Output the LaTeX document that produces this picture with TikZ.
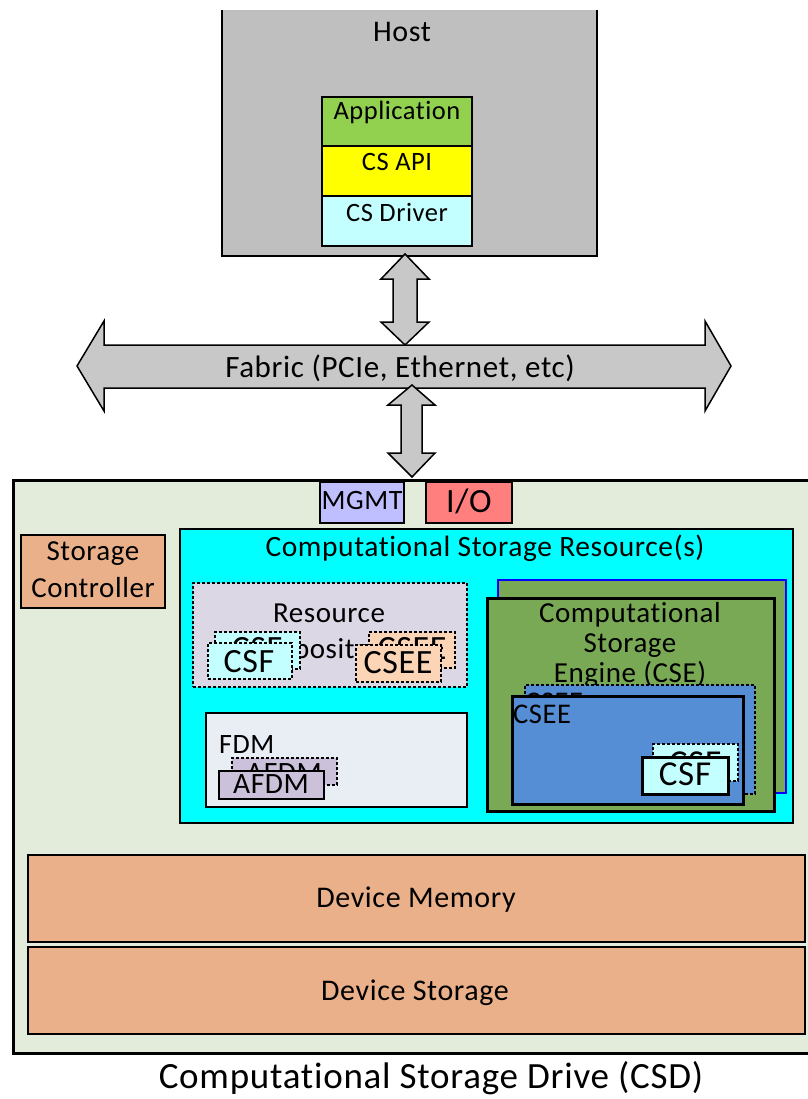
\documentclass[tikz,border=0pt]{standalone}
\usepackage{fontspec}
\setmainfont{Carlito}[Ligatures={NoCommon}, LetterSpace=2]
\definecolor{hostgray}{HTML}{BFBFBF}
\definecolor{appgreen}{HTML}{92D050}
\definecolor{apiyellow}{HTML}{FFFF00}
\definecolor{drvcyan}{HTML}{C4FFFF}
\definecolor{arrowgray}{HTML}{C8C8C8}
\definecolor{csdgreen}{HTML}{E3EBDA}
\definecolor{mgmtblue}{HTML}{BFBFFF}
\definecolor{iored}{HTML}{FF7F7F}
\definecolor{peach}{HTML}{EAB08A}
\definecolor{csrcyan}{HTML}{00FFFF}
\definecolor{repogray}{HTML}{DCD7E5}
\definecolor{csfcyan}{HTML}{C4FFFF}
\definecolor{cseepeach}{HTML}{FBD5B5}
\definecolor{csegreen}{HTML}{7AA955}
\definecolor{cseeblue}{HTML}{558ED5}
\definecolor{fdmgray}{HTML}{E9EDF4}
\definecolor{afdmlilac}{HTML}{CCC1DA}
\newcommand{\mybox}[6][]{\node[#1, anchor=north west, inner sep=0pt, outer sep=0pt, minimum width={#4-#2}, minimum height={#5-#3}] (#6) at (#2,#3) {};}
\begin{document}
\begin{tikzpicture}[x=1pt,y=-1pt,
  fsz/.style={font=\fontsize{#1}{#1}\selectfont, inner sep=0pt, anchor=base},
  boxst/.style={draw=black, line width=2pt},
  dboxst/.style={draw=black, line width=2.2pt, dash pattern=on 3pt off 2pt},
  arrowst/.style={fill=arrowgray, draw=black, line width=1.5pt, line join=miter}]
\useasboundingbox (0,0) rectangle (807,1099);
\fill[white] (0,0) rectangle (807,1099);

% Host
\mybox[fill=hostgray]{222}{10}{597}{256}{host}
\draw[line width=1.5pt] (host.north west) -- (host.south west) -- (host.south east) -- (host.north east);
\node[fsz=30] (hostlbl) at (402,42) {Host};
\mybox[boxst, fill=appgreen]{322}{97}{472}{146}{app}
\node[fsz=26.5] (applbl) at (397,120) {Application};
\mybox[boxst, fill=apiyellow]{322}{146}{472}{196}{api}
\node[fsz=26.5] (apilbl) at (397,171) {CS API};
\mybox[boxst, fill=drvcyan]{322}{196}{472}{246}{drv}
\node[fsz=26.5] (drvlbl) at (397,222) {CS Driver};

% arrows and fabric
\draw[arrowst] (405,254) -- (429,279) -- (417,279) -- (417,322) -- (429,322) -- (405,345) -- (381,322) -- (393,322) -- (393,279) -- (381,279) -- cycle;
\draw[arrowst] (77,366) -- (104,321) -- (104,345) -- (705,345) -- (705,321) -- (731,366) -- (705,411) -- (705,388) -- (104,388) -- (104,411) -- cycle;
\node[fsz=31] (fabric) at (400,377) {Fabric (PCIe, Ethernet, etc)};
\draw[arrowst] (412,385) -- (435,405) -- (422,405) -- (422,453) -- (435,453) -- (412,477) -- (388,453) -- (401,453) -- (401,405) -- (388,405) -- cycle;

% CSD
\mybox[draw=black, line width=3pt, fill=csdgreen]{13}{480}{815}{1053}{csd}
\mybox[boxst, fill=mgmtblue]{320}{482}{404}{523}{mgmt}
\node[fsz=28] (mgmtlbl) at (362,509) {MGMT};
\mybox[boxst, fill=iored]{426}{482}{512}{523}{io}
\node[fsz=34] (iolbl) at (469,512) {I/O};
\mybox[boxst, line width=2.5pt, fill=peach]{21}{535}{165}{608}{sc}
\node[fsz=29] (sclbl1) at (93,560) {Storage};
\node[fsz=29] (sclbl2) at (93,597) {Controller};

% CSR
\mybox[boxst, fill=csrcyan]{180}{529}{793}{823}{csr}
\node[fsz=29.5] (csrlbl) at (485,556) {Computational Storage Resource(s)};

% Resource repository
\mybox[dboxst, fill=repogray]{193}{583}{467}{687}{repo}
\node[fsz=29] (repolbl1) at (329,622) {Resource};
\node[fsz=29] (repolbl2) at (329,658) {Repository};
\mybox[dboxst, fill=csfcyan]{215}{632}{300}{669}{csfb}
\node[fsz=34] (csfblbl) at (257,659) {CSF};
\mybox[dboxst, fill=csfcyan]{208}{643}{292}{679}{csf}
\node[fsz=34] (csflbl) at (249,672) {CSF};
\mybox[dboxst, fill=cseepeach]{369}{632}{455}{668}{cseerb}
\node[fsz=34] (cseerblbl) at (412,659) {CSEE};
\mybox[dboxst, fill=cseepeach]{356}{645}{441}{682}{cseer}
\node[fsz=34] (cseerlbl) at (398,673) {CSEE};

% CSE
\mybox[draw=blue, line width=2.5pt, fill=csegreen]{498}{580}{786}{793}{cseb}
\mybox[boxst, line width=3pt, fill=csegreen]{487}{598}{774}{811}{cse}
\node[fsz=29] (cselbl1) at (630,622) {Computational};
\node[fsz=29] (cselbl2) at (630,652) {Storage};
\node[fsz=29] (cselbl3) at (630,682) {Engine (CSE)};
\mybox[dboxst, line width=2.5pt, fill=cseeblue]{525}{685}{755}{794}{cseeb}
\node[fsz=28.5, anchor=base west] (cseeblbl) at (525,711) {CSEE};
\mybox[boxst, line width=3pt, fill=cseeblue]{512}{696}{743}{804}{csee}
\node[fsz=28.5, anchor=base west] (cseelbl) at (513,723) {CSEE};
\mybox[dboxst, line width=2.5pt, fill=csfcyan]{653}{744}{738}{781}{csfeb}
\node[fsz=35] (csfeblbl) at (695,774) {CSF};
\mybox[boxst, line width=3pt, fill=csfcyan]{642}{757}{728}{794}{csfe}
\node[fsz=35] (csfelbl) at (685,785) {CSF};

% FDM
\mybox[boxst, fill=fdmgray]{206}{713}{467}{807}{fdm}
\node[fsz=28, anchor=base west] (fdmlbl) at (219,753) {FDM};
\mybox[dboxst, fill=afdmlilac]{232}{758}{337}{785}{afdmb}
\node[fsz=29.5] (afdmblbl) at (284,782) {AFDM};
\mybox[boxst, fill=afdmlilac]{219}{771}{324}{799}{afdm}
\node[fsz=29.5] (afdmlbl) at (271,793) {AFDM};

% Device memory / storage
\mybox[boxst, fill=peach]{28}{855}{805}{942}{devmem}
\node[fsz=30] (devmemlbl) at (416,907) {Device Memory};
\mybox[boxst, fill=peach]{28}{947}{805}{1034}{devsto}
\node[fsz=30] (devstolbl) at (415,1000) {Device Storage};

\node[fsz=37] (caption) at (431,1088) {Computational Storage Drive (CSD)};
\end{tikzpicture}
\end{document}
